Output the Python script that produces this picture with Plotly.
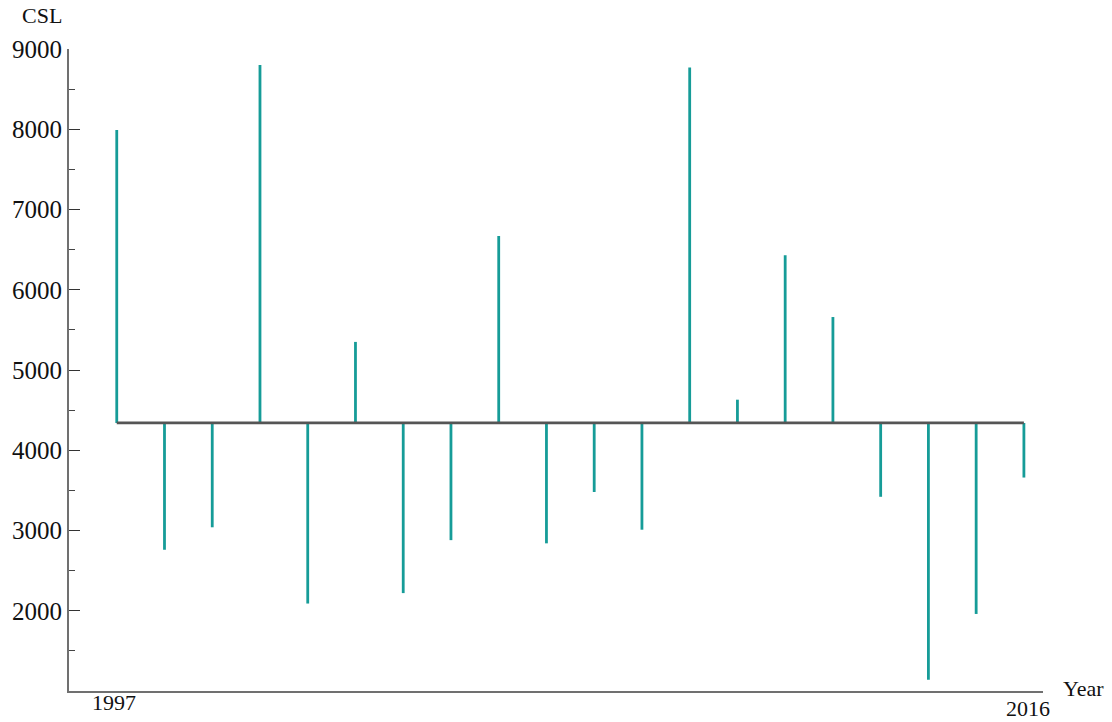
import plotly.graph_objects as go

# Annual CSL values, 1997-2016
years = list(range(1997, 2017))
csl = [7990, 2760, 3040, 8800, 2090, 5350, 2220, 2880, 6670, 2840,
       3480, 3010, 8770, 4630, 6430, 5660, 3420, 1140, 1960, 3660]

y_ticks = [2000, 3000, 4000, 5000, 6000, 7000, 8000, 9000]
x_labels = [1997, 2016]

mean_csl = sum(csl) / len(csl)

STEM = "#169c98"
BASE = "#555555"
AXIS = "#707070"
FONT = "Liberation Serif, Times New Roman, serif"

# Vertical stems from the mean line to each year's value
sx, sy = [], []
for yr, v in zip(years, csl):
    sx += [yr, yr, None]
    sy += [mean_csl, v, None]

fig = go.Figure()
fig.add_trace(go.Scatter(
    x=sx, y=sy, mode="lines",
    line=dict(color=STEM, width=2.8),
    hoverinfo="skip", showlegend=False,
))
# Mean reference line
fig.add_trace(go.Scatter(
    x=[years[0], years[-1]], y=[mean_csl, mean_csl], mode="lines",
    line=dict(color=BASE, width=2.8),
    hoverinfo="skip", showlegend=False,
))

fig.update_layout(
    width=1112, height=722,
    margin=dict(l=69, r=69, t=49, b=31),
    paper_bgcolor="white", plot_bgcolor="white",
    font=dict(family=FONT, color="#111111"),
    xaxis=dict(
        range=[1996, 2016.4], showgrid=False, zeroline=False,
        showline=True, linecolor=AXIS, linewidth=1.8,
        showticklabels=False, ticks="",
    ),
    yaxis=dict(
        range=[1000, 9000], showgrid=False, zeroline=False,
        showline=True, linecolor=AXIS, linewidth=1.8,
        tickvals=y_ticks, ticks="inside", ticklen=11, tickwidth=1.4,
        tickcolor="#333333",
        tickfont=dict(family=FONT, size=25, color="#111111"),
        minor=dict(dtick=500, tick0=1500, ticks="inside", ticklen=6,
                   tickwidth=1.2, tickcolor="#444444"),
    ),
)

# Year labels under the axis ends
label_shift = {x_labels[0]: (-3, 3), x_labels[-1]: (4, -3)}
for yr in x_labels:
    dx, dy = label_shift[yr]
    fig.add_annotation(
        x=yr, y=0, xref="x", yref="paper", yanchor="top",
        xshift=dx, yshift=dy,
        text=str(yr), showarrow=False,
        font=dict(family=FONT, size=22, color="#111111"),
    )

# Axis titles
fig.add_annotation(
    x=1, y=0, xref="paper", yref="paper", xanchor="left", yanchor="middle",
    xshift=18, yshift=3, text="Year", showarrow=False,
    font=dict(family=FONT, size=22, color="#111111"),
)
fig.add_annotation(
    x=0, y=1, xref="paper", yref="paper", xanchor="center", yanchor="bottom",
    xshift=-27, yshift=19, text="CSL", showarrow=False,
    font=dict(family=FONT, size=22, color="#111111"),
)

fig.write_html("out.html")
